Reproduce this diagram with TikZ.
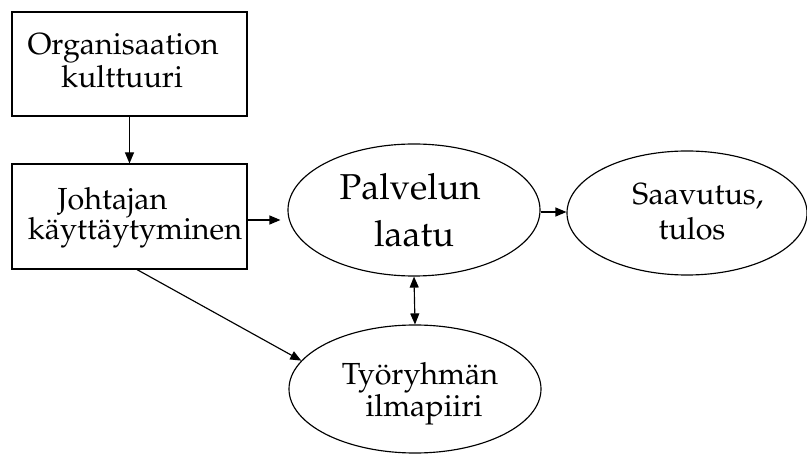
\documentclass[tikz,border=0pt]{standalone}
\usepackage[T1]{fontenc}
\usepackage{mathpazo}
\usetikzlibrary{arrows.meta,shapes.geometric}

\begin{document}
\begin{tikzpicture}[x=1pt,y=-1pt,
  line width=1.15pt,
  shapebox/.style={draw, rectangle, inner sep=0pt},
  oval/.style={draw, ellipse, inner sep=0pt},
  txt/.style={anchor=base, inner sep=0pt, font=\fontsize{30.5}{33}\selectfont},
  bigtxt/.style={txt, font=\fontsize{36}{40}\selectfont},
  tip/.style={Triangle[length=11pt,width=9pt]},
  arr/.style={-{Triangle[length=11pt,width=9pt]}},
  dblarr/.style={{Triangle[length=11pt,width=9pt]}-{Triangle[length=11pt,width=9pt]}}]

\useasboundingbox (0,0) rectangle (807,454);

% boxes and ovals
\node[shapebox, minimum width=235pt, minimum height=104pt] (org) at (129.5,64) {};
\node[shapebox, minimum width=235pt, minimum height=105pt] (lead) at (129.5,216.5) {};
\node[oval, minimum width=252pt, minimum height=132pt] (quality) at (414,210) {};
\node[oval, minimum width=240pt, minimum height=124pt] (result) at (687,213) {};
\node[oval, minimum width=252pt, minimum height=128pt] (climate) at (415,389) {};

% texts
\node[txt] (org1) at (123,55) {Organisaation};
\node[txt] (org2) at (122,88) {kulttuuri};
\node[txt] (lead1) at (112.5,210) {Johtajan};
\node[txt] (lead2) at (135,240) {k\"aytt\"aytyminen};
\node[bigtxt] (quality1) at (410,200) {Palvelun};
\node[bigtxt] (quality2) at (414,247) {laatu};
\node[txt] (result1) at (698,205) {Saavutus,};
\node[txt] (result2) at (692,240) {tulos};
\node[txt] (climate1) at (420,385) {Ty\"oryhm\"an};
\node[txt] (climate2) at (424,417) {ilmapiiri};

% connectors
\draw[arr] (org.south) -- (lead.north);
\draw[arr, shorten >=7pt] (lead.east |- 0,220) -- (quality.west |- 0,220);
\draw[arr] (quality.east |- 0,212) -- (result.west |- 0,212);
\draw[dblarr] (quality.south) -- (climate.north);
\draw[arr] ([xshift=7.5pt]lead.south) -- (climate.166);
\end{tikzpicture}
\end{document}
